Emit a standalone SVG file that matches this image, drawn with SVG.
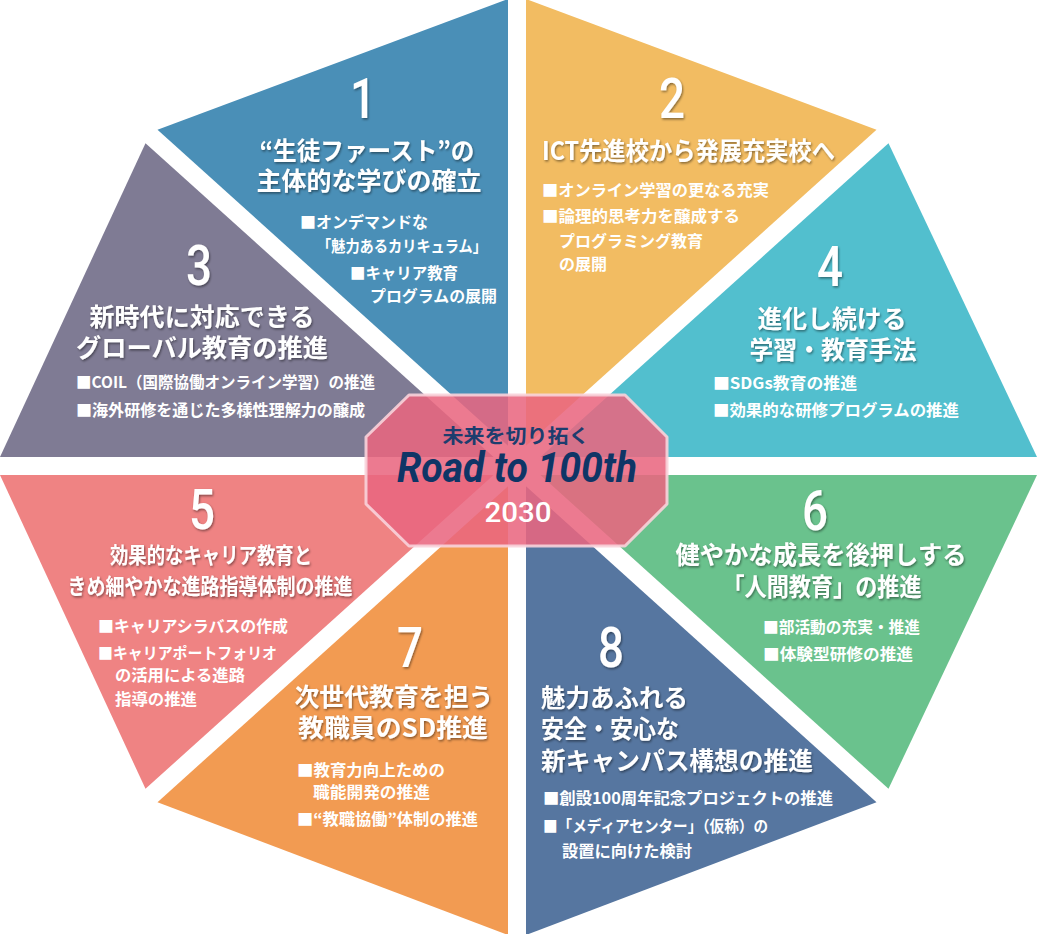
<svg xmlns="http://www.w3.org/2000/svg" width="1037" height="934" viewBox="0 0 1037 934">
<defs>
<filter id="sh" x="-10%" y="-30%" width="120%" height="160%">
<feDropShadow dx="1" dy="1.5" stdDeviation="1.2" flood-color="#000" flood-opacity="0.45"/>
</filter>
<style>
.num{font-family:Roboto,"Liberation Sans",sans-serif;font-weight:500;font-size:56px;fill:#fff;text-anchor:middle;filter:url(#sh);}
.t{font-family:"Noto Sans CJK JP",sans-serif;font-weight:700;font-size:25px;fill:#fff;filter:url(#sh);}
.tm{text-anchor:middle;}
.b{font-family:"Noto Sans CJK JP",sans-serif;font-weight:700;font-size:16px;fill:#fff;}
.seg{stroke:none;}
</style>
</defs>
<rect width="1037" height="934" fill="#fff"/>
<g id="connectors"></g>

<g id="seg1">
<polygon class="seg" fill="#4a8fb7" points="508,-1 157.5,129.8 508,445.8"/>
<text class="num" x="363" y="118" textLength="26" lengthAdjust="spacingAndGlyphs">1</text>
<text class="t tm" x="367" y="160" textLength="215" lengthAdjust="spacingAndGlyphs">“生徒ファースト”の</text>
<text class="t tm" x="369" y="190" textLength="225" lengthAdjust="spacingAndGlyphs">主体的な学びの確立</text>
<text class="b" x="300" y="228">■オンデマンドな</text>
<text class="b" x="317" y="252" textLength="170" lengthAdjust="spacingAndGlyphs">「魅力あるカリキュラム」</text>
<text class="b" x="350" y="279" textLength="108" lengthAdjust="spacingAndGlyphs">■キャリア教育</text>
<text class="b" x="370" y="302" textLength="127" lengthAdjust="spacingAndGlyphs">プログラムの展開</text>
</g>

<g id="seg2">
<polygon class="seg" fill="#f2bc62" points="526,-1 876.5,129.8 526,445.8"/>
<text class="num" x="672" y="118" textLength="26" lengthAdjust="spacingAndGlyphs">2</text>
<text class="t" x="542" y="160" textLength="293" lengthAdjust="spacingAndGlyphs">ICT先進校から発展充実校へ</text>
<text class="b" x="542" y="196" textLength="227" lengthAdjust="spacingAndGlyphs">■オンライン学習の更なる充実</text>
<text class="b" x="542" y="222" textLength="198" lengthAdjust="spacingAndGlyphs">■論理的思考力を醸成する</text>
<text class="b" x="559" y="247" textLength="144" lengthAdjust="spacingAndGlyphs">プログラミング教育</text>
<text class="b" x="559" y="270">の展開</text>
</g>

<g id="seg3">
<polygon class="seg" fill="#7f7b94" points="0,457 145.5,143.2 493.6,457"/>
<text class="num" x="199" y="285" textLength="26" lengthAdjust="spacingAndGlyphs">3</text>
<text class="t tm" x="202" y="326" textLength="225" lengthAdjust="spacingAndGlyphs">新時代に対応できる</text>
<text class="t tm" x="202" y="357" textLength="252" lengthAdjust="spacingAndGlyphs">グローバル教育の推進</text>
<text class="b" x="76" y="388" textLength="299" lengthAdjust="spacingAndGlyphs">■COIL（国際協働オンライン学習）の推進</text>
<text class="b" x="76" y="416" textLength="289" lengthAdjust="spacingAndGlyphs">■海外研修を通じた多様性理解力の醸成</text>
</g>

<g id="seg4">
<polygon class="seg" fill="#52bfce" points="888.5,143.2 1037,457 540.4,457"/>
<text class="num" x="830" y="286" textLength="26" lengthAdjust="spacingAndGlyphs">4</text>
<text class="t tm" x="832" y="328" textLength="149" lengthAdjust="spacingAndGlyphs">進化し続ける</text>
<text class="t tm" x="833" y="359" textLength="167" lengthAdjust="spacingAndGlyphs">学習・教育手法</text>
<text class="b" x="713" y="389" textLength="144" lengthAdjust="spacingAndGlyphs">■SDGs教育の推進</text>
<text class="b" x="713" y="416" textLength="246" lengthAdjust="spacingAndGlyphs">■効果的な研修プログラムの推進</text>
</g>

<g id="seg5">
<polygon class="seg" fill="#ef8383" points="145.5,788.8 0,475 493.6,475"/>
<text class="num" x="202" y="529" textLength="26" lengthAdjust="spacingAndGlyphs">5</text>
<text class="t tm" x="211" y="563" style="font-size:22px" textLength="202" lengthAdjust="spacingAndGlyphs">効果的なキャリア教育と</text>
<text class="t tm" x="210" y="594" style="font-size:22px" textLength="285" lengthAdjust="spacingAndGlyphs">きめ細やかな進路指導体制の推進</text>
<text class="b" x="98" y="632" textLength="190" lengthAdjust="spacingAndGlyphs">■キャリアシラバスの作成</text>
<text class="b" x="98" y="659" textLength="179" lengthAdjust="spacingAndGlyphs">■キャリアポートフォリオ</text>
<text class="b" x="115" y="681" textLength="130" lengthAdjust="spacingAndGlyphs">の活用による進路</text>
<text class="b" x="115" y="705" textLength="82" lengthAdjust="spacingAndGlyphs">指導の推進</text>
</g>

<g id="seg6">
<polygon class="seg" fill="#6ac28d" points="1037,475 888.5,788.8 540.4,475"/>
<text class="num" x="815" y="530" textLength="26" lengthAdjust="spacingAndGlyphs">6</text>
<text class="t tm" x="821" y="564" textLength="291" lengthAdjust="spacingAndGlyphs">健やかな成長を後押しする</text>
<text class="t tm" x="822" y="596" textLength="199" lengthAdjust="spacingAndGlyphs">「人間教育」の推進</text>
<text class="b" x="763" y="633" textLength="157" lengthAdjust="spacingAndGlyphs">■部活動の充実・推進</text>
<text class="b" x="763" y="660" textLength="150" lengthAdjust="spacingAndGlyphs">■体験型研修の推進</text>
</g>

<g id="seg7">
<polygon class="seg" fill="#f29b52" points="508,935 157.5,802.2 508,486.2"/>
<text class="num" x="410" y="667" textLength="26" lengthAdjust="spacingAndGlyphs">7</text>
<text class="t tm" x="394" y="706" textLength="199" lengthAdjust="spacingAndGlyphs">次世代教育を担う</text>
<text class="t tm" x="393" y="737" textLength="190" lengthAdjust="spacingAndGlyphs">教職員のSD推進</text>
<text class="b" x="297" y="776" textLength="148" lengthAdjust="spacingAndGlyphs">■教育力向上ための</text>
<text class="b" x="313" y="798" textLength="117" lengthAdjust="spacingAndGlyphs">職能開発の推進</text>
<text class="b" x="297" y="825" textLength="181" lengthAdjust="spacingAndGlyphs">■“教職協働”体制の推進</text>
</g>

<g id="seg8">
<polygon class="seg" fill="#5676a0" points="876.5,802.2 526,935 526,486.2"/>
<text class="num" x="611" y="667" textLength="26" lengthAdjust="spacingAndGlyphs">8</text>
<text class="t" x="541" y="707" textLength="147" lengthAdjust="spacingAndGlyphs">魅力あふれる</text>
<text class="t" x="541" y="738" textLength="138" lengthAdjust="spacingAndGlyphs">安全・安心な</text>
<text class="t" x="541" y="770" textLength="272" lengthAdjust="spacingAndGlyphs">新キャンパス構想の推進</text>
<text class="b" x="543" y="804" textLength="290" lengthAdjust="spacingAndGlyphs">■創設100周年記念プロジェクトの推進</text>
<text class="b" x="543" y="832" textLength="225" lengthAdjust="spacingAndGlyphs">■「メディアセンター」（仮称）の</text>
<text class="b" x="562" y="857" textLength="130" lengthAdjust="spacingAndGlyphs">設置に向けた検討</text>
</g>

<g id="center">
<polygon points="409,395 625,395 667,437 667,504 625,546 409,546 366,504 366,437" fill="#e96680" fill-opacity="0.87" stroke="#f8d3da" stroke-opacity="0.9" stroke-width="3" stroke-linejoin="round"/>
<text x="516" y="443" text-anchor="middle" font-family="Noto Sans CJK JP, sans-serif" font-weight="700" font-size="19" fill="#1d3d6e" textLength="147" lengthAdjust="spacingAndGlyphs">未来を切り拓く</text>
<text x="517" y="482" text-anchor="middle" font-family="Roboto, Liberation Sans, sans-serif" font-style="italic" font-weight="700" font-size="42" fill="#0f3566" textLength="240" lengthAdjust="spacingAndGlyphs">Road to 100th</text>
<text x="518" y="522" text-anchor="middle" font-family="Roboto, Liberation Sans, sans-serif" font-weight="500" font-size="28" fill="#fff" textLength="67" lengthAdjust="spacingAndGlyphs">2030</text>
</g>
</svg>
